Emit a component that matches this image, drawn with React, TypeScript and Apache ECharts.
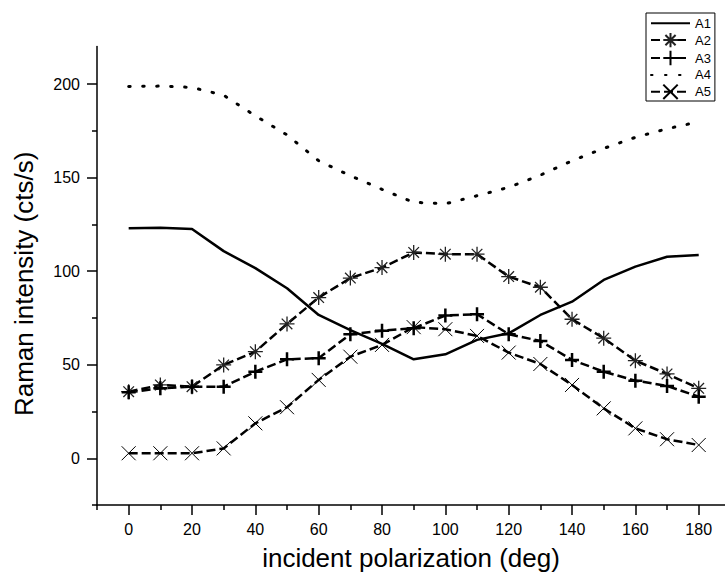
import React, { useEffect, useRef } from "react";
import * as echarts from "echarts";

const angles = [0, 10, 20, 30, 40, 50, 60, 70, 80, 90, 100, 110, 120, 130, 140, 150, 160, 170, 180];
const a1 = [123, 123.2, 122.5, 110.7, 101.6, 90.9, 76.6, 68.5, 61.2, 52.9, 55.6, 63.3, 66.8, 76.6, 83.7, 95.3, 102.4, 107.7, 108.7];
const a2 = [35.6, 39.2, 38.3, 49.9, 57, 71.8, 85.9, 96.3, 101.9, 110, 109.1, 109.1, 97.1, 91.4, 74.3, 64.2, 52.2, 45.1, 37.4];
const a3 = [35.3, 37.4, 38.3, 38.3, 46.3, 52.9, 53.5, 66.3, 68.2, 69.5, 76.3, 77, 66.3, 62.7, 52.6, 46.3, 41.5, 38.7, 32.9];
const a4 = [198.7, 198.9, 198.2, 194, 183, 172.8, 159, 151, 143.7, 136.8, 136, 140.3, 144.8, 151.3, 159, 165.6, 171.5, 176.1, 179.8];
const a5 = [2.7, 2.7, 2.7, 5.3, 18.7, 27.3, 41.9, 54.3, 60.6, 70.1, 69, 65.4, 56.5, 50.4, 39.2, 26.7, 16, 10.2, 7.1];

const xMajor = [0, 20, 40, 60, 80, 100, 120, 140, 160, 180];
const xMinor = [-10, 10, 30, 50, 70, 90, 110, 130, 150, 170];
const yMajor = [0, 50, 100, 150, 200];
const yMinor = [-25, 25, 75, 125, 175];

const FONT = "'Liberation Sans', Arial, sans-serif";

const ASTERISK = "path://M0,-10L0,10M-10,0L10,0M-7.07,-7.07L7.07,7.07M-7.07,7.07L7.07,-7.07";
const PLUS = "path://M0,-10L0,10M-10,0L10,0";
const CROSS = "path://M-10,-10L10,10M-10,10L10,-10";

const pairs = (vals: number[]) => angles.map((a, i) => [a, vals[i]]);

export default function App() {
  const ref = useRef<HTMLDivElement>(null);
  useEffect(() => {
    if (!ref.current) return;
    const chart = echarts.init(ref.current, null, { renderer: "svg" });
    const dash = [9, 4];
    const hiddenIcon = { color: "transparent", borderColor: "transparent", borderWidth: 0, opacity: 0 };
    const X_MIN = -10;
    const X_MAX = 188.3;
    chart.setOption({
      animation: false,
      backgroundColor: "#fff",
      textStyle: { fontFamily: FONT },
      grid: { left: 97, top: 46.6, right: 0, bottom: 75.9 },
      legend: {
        orient: "vertical",
        left: 646,
        top: 13,
        padding: [3, 4, 1, 4],
        itemWidth: 39,
        itemHeight: 18,
        itemGap: 1.5,
        borderColor: "#000",
        borderWidth: 1,
        backgroundColor: "#fff",
        textStyle: { fontFamily: FONT, fontSize: 13, color: "#000" },
        data: [
          { name: "A1", itemStyle: hiddenIcon },
          { name: "A2" },
          { name: "A3" },
          { name: "A4", itemStyle: hiddenIcon },
          { name: "A5" },
        ],
      },
      xAxis: [
        {
          type: "value",
          position: "bottom",
          min: X_MIN,
          max: X_MAX,
          name: "incident polarization (deg)",
          nameLocation: "middle",
          nameGap: 40,
          nameTextStyle: { fontFamily: FONT, fontSize: 26, color: "#000" },
          axisLine: { show: true, onZero: false, lineStyle: { color: "#000", width: 1.5 } },
          axisTick: { show: true, customValues: xMajor, length: 10, lineStyle: { color: "#000", width: 1.5 } },
          axisLabel: { customValues: xMajor, margin: 16, fontSize: 16, color: "#000", fontFamily: FONT },
          splitLine: { show: false },
        },
        {
          type: "value",
          position: "bottom",
          min: X_MIN,
          max: X_MAX,
          axisLine: { show: false, onZero: false },
          axisTick: { show: true, customValues: xMinor, length: 5, lineStyle: { color: "#000", width: 1.5 } },
          axisLabel: { show: false },
          splitLine: { show: false },
        },
      ],
      yAxis: [
        {
          type: "value",
          position: "left",
          min: -25,
          max: 220,
          name: "Raman intensity (cts/s)",
          nameLocation: "middle",
          nameGap: 60,
          nameTextStyle: { fontFamily: FONT, fontSize: 26, color: "#000", padding: [0, 16, 0, 0] },
          axisLine: { show: true, onZero: false, lineStyle: { color: "#000", width: 1.5 } },
          axisTick: { show: true, customValues: yMajor, length: 10, lineStyle: { color: "#000", width: 1.5 } },
          axisLabel: { customValues: yMajor, margin: 17, fontSize: 16, color: "#000", fontFamily: FONT },
          splitLine: { show: false },
        },
        {
          type: "value",
          position: "left",
          min: -25,
          max: 220,
          axisLine: { show: false, onZero: false },
          axisTick: { show: true, customValues: yMinor, length: 5, lineStyle: { color: "#000", width: 1.5 } },
          axisLabel: { show: false },
          splitLine: { show: false },
        },
      ],
      series: [
        {
          name: "A1",
          type: "line",
          data: pairs(a1),
          symbol: "none",
          color: "#000",
          lineStyle: { color: "#000", width: 2.5 },
        },
        {
          name: "A2",
          type: "line",
          data: pairs(a2),
          symbol: ASTERISK,
          symbolSize: 15,
          color: "#000",
          itemStyle: { color: "#000", borderColor: "#222", borderWidth: 1.3 },
          lineStyle: { color: "#000", width: 2.5, type: dash },
        },
        {
          name: "A3",
          type: "line",
          data: pairs(a3),
          symbol: PLUS,
          symbolSize: 14,
          color: "#000",
          itemStyle: { color: "#000", borderColor: "#000", borderWidth: 2.5 },
          lineStyle: { color: "#000", width: 2.5, type: dash },
        },
        {
          name: "A4",
          type: "line",
          data: pairs(a4),
          symbol: "none",
          color: "#000",
          lineStyle: { color: "#000", width: 3, type: [1.5, 12.5], cap: "round" },
        },
        {
          name: "A5",
          type: "line",
          data: pairs(a5),
          symbol: CROSS,
          symbolSize: 14,
          color: "#000",
          itemStyle: { color: "#000", borderColor: "#000", borderWidth: 1 },
          lineStyle: { color: "#000", width: 2.5, type: dash },
        },
      ],
    });
    return () => chart.dispose();
  }, []);
  return (
    <div
      ref={ref}
      style={{ position: "absolute", left: 0, top: 0, width: 725, height: 581 }}
    />
  );
}
